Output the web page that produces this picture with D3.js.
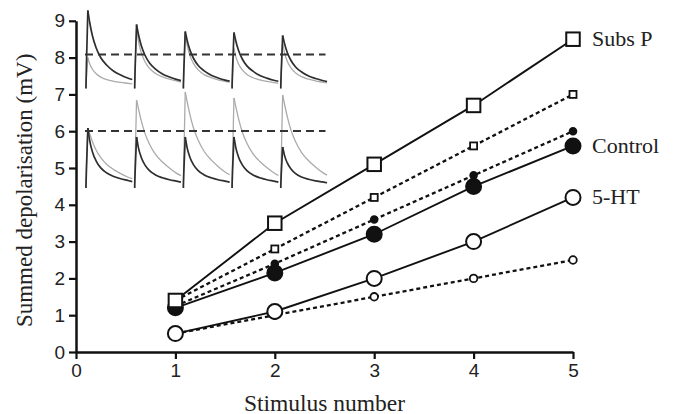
<!DOCTYPE html>
<html>
<head>
<meta charset="utf-8">
<script src="https://cdn.jsdelivr.net/npm/d3@7/dist/d3.min.js"></script>
<style>
  html, body { margin: 0; padding: 0; background: #fff; }
  svg { display: block; }
</style>
</head>
<body>
<svg id="chart" width="677" height="414"></svg>
<script>
// ---------- Main chart data ----------
const stimuli = [1, 2, 3, 4, 5];
const subsPSolid   = [1.4, 3.5, 5.1, 6.7, 8.5];
const subsPDotted  = [1.4, 2.8, 4.2, 5.6, 7.0];
const controlDotted = [1.25, 2.4, 3.6, 4.8, 6.0];
const controlSolid = [1.2, 2.15, 3.2, 4.5, 5.6];
const htSolid      = [0.5, 1.1, 2.0, 3.0, 4.2];
const htDotted     = [0.5, 1.0, 1.5, 2.0, 2.5];
const xTicks = [0, 1, 2, 3, 4, 5];
const yTicks = [0, 1, 2, 3, 4, 5, 6, 7, 8, 9];
const seriesLabels = ["Subs P", "Control", "5-HT"];

// ---------- Inset (EPSP traces) data ----------
// normalised time within a sweep and normalised trace shapes
const traceTime  = [0, 0.01, 0.04, 0.08, 0.14, 0.22, 0.32, 0.45, 0.6, 0.75, 0.9, 1.0];
const shapeFast  = [0, 0.3, 1, 0.78, 0.58, 0.42, 0.30, 0.21, 0.15, 0.11, 0.08, 0.06];
const shapeMid   = [0, 0.3, 1, 0.84, 0.66, 0.50, 0.37, 0.27, 0.19, 0.14, 0.10, 0.08];
const shapeSlow  = [0, 0.3, 1, 0.90, 0.76, 0.61, 0.48, 0.36, 0.27, 0.20, 0.14, 0.11];
// peak amplitudes of the 5 sweeps (inset units)
const topBlackPeaks    = [3.75, 3.05, 2.7, 2.65, 2.5];
const topGreyPeaks     = [1.4, 2.85, 2.6, 1.85, 2.1];
const bottomBlackPeaks = [2.85, 2.4, 2.4, 2.4, 1.9];
const bottomGreyPeaks  = [2.85, 4.25, 4.65, 4.35, 4.5];
const topDashLevel = 1.55;
const bottomDashLevel = 2.7;

// ---------- Layout ----------
const svg = d3.select("#chart");
const x = d3.scaleLinear().domain([0, 5]).range([76, 573]);
const y = d3.scaleLinear().domain([0, 9]).range([352, 20.8]);

// ---------- Inset ----------
const insetX = d3.scaleLinear().domain([0, 5]).range([86, 329.5]);
const insetTop = d3.scaleLinear().domain([0, 1]).range([85.5, 65.5]);
const insetBottom = d3.scaleLinear().domain([0, 1]).range([185, 165]);
const inset = svg.append("g");

function tracePath(peaks, shape, yScale) {
  const pts = [];
  peaks.forEach((p, i) => {
    const seg = [];
    seg.push([insetX(i), yScale(-0.15)]);
    traceTime.forEach((t, k) => {
      seg.push([insetX(i + t * 0.95), yScale(p * shape[k])]);
    });
    pts.push(seg);
  });
  return pts;
}
const line = d3.line().curve(d3.curveMonotoneX);
function drawTraces(peaks, shape, yScale, color, width) {
  tracePath(peaks, shape, yScale).forEach(seg => {
    inset.append("path")
      .attr("d", d3.line().curve(d3.curveLinear)(seg.slice(0, 4)))
      .attr("fill", "none").attr("stroke", color).attr("stroke-width", width);
    inset.append("path")
      .attr("d", line(seg.slice(3)))
      .attr("fill", "none").attr("stroke", color).attr("stroke-width", width);
  });
}
drawTraces(topGreyPeaks, shapeFast, insetTop, "#ababab", 1.3);
drawTraces(topBlackPeaks, shapeMid, insetTop, "#2e2e2e", 1.7);
drawTraces(bottomGreyPeaks, shapeSlow, insetBottom, "#ababab", 1.3);
drawTraces(bottomBlackPeaks, shapeFast, insetBottom, "#2e2e2e", 1.7);

[[topDashLevel, insetTop], [bottomDashLevel, insetBottom]].forEach(([lvl, sc]) => {
  inset.append("line")
    .attr("x1", insetX(0) - 1).attr("x2", insetX(5) - 4)
    .attr("y1", sc(lvl)).attr("y2", sc(lvl))
    .attr("stroke", "#333").attr("stroke-width", 2)
    .attr("stroke-dasharray", "8,5");
});

// ---------- Axes ----------
const xAxis = svg.append("g")
  .attr("transform", `translate(0,${y(0)})`)
  .call(d3.axisBottom(x).tickValues(xTicks).tickFormat(d3.format("d")).tickSize(7).tickSizeOuter(0).tickPadding(5));
const yAxis = svg.append("g")
  .attr("transform", `translate(${x(0)},0)`)
  .call(d3.axisLeft(y).tickValues(yTicks).tickFormat(d3.format("d")).tickSize(7).tickSizeOuter(0).tickPadding(4));
[xAxis, yAxis].forEach(a => {
  a.select(".domain").attr("stroke", "#111").attr("stroke-width", 2.5);
  a.selectAll(".tick line").attr("stroke", "#111").attr("stroke-width", 2.2);
  a.selectAll(".tick text")
    .attr("fill", "#222")
    .style("font-family", "'Liberation Sans', Arial, sans-serif")
    .style("font-size", "19px");
});

svg.append("text")
  .attr("x", (x(0) + x(5)) / 2).attr("y", 410.5)
  .attr("text-anchor", "middle")
  .style("font-family", "'Liberation Serif', 'Times New Roman', serif")
  .style("font-size", "23.5px").attr("fill", "#222")
  .text("Stimulus number");
svg.append("text")
  .attr("transform", `translate(32,${(y(0) + y(9)) / 2 + 4}) rotate(-90)`)
  .attr("text-anchor", "middle")
  .style("font-family", "'Liberation Serif', 'Times New Roman', serif")
  .style("font-size", "23px").attr("fill", "#222")
  .text("Summed depolarisation (mV)");

// ---------- Series ----------
const series = [
  { values: htDotted, dash: "4,3", marker: "circle", size: 3.8, fill: "#fff" },
  { values: htSolid, dash: null, marker: "circle", size: 7.5, fill: "#fff" },
  { values: controlDotted, dash: "4,3", marker: "circle", size: 3.4, fill: "#111" },
  { values: controlSolid, dash: null, marker: "circle", size: 7.5, fill: "#111" },
  { values: subsPDotted, dash: "4,3", marker: "square", size: 7, fill: "#fff" },
  { values: subsPSolid, dash: null, marker: "square", size: 13.5, fill: "#fff" }
];
const lineGen = d3.line().x((d, i) => x(stimuli[i])).y(d => y(d));
const gLines = svg.append("g");
const gMarks = svg.append("g");
series.forEach(s => {
  gLines.append("path")
    .attr("d", lineGen(s.values))
    .attr("fill", "none").attr("stroke", "#111")
    .attr("stroke-width", s.dash ? 2.3 : 1.9)
    .attr("stroke-dasharray", s.dash);
});
series.forEach(s => {
  s.values.forEach((v, i) => {
    if (s.marker === "circle") {
      gMarks.append("circle")
        .attr("cx", x(stimuli[i])).attr("cy", y(v)).attr("r", s.size)
        .attr("fill", s.fill).attr("stroke", "#111").attr("stroke-width", s.size > 5 ? 2 : 1.8);
    } else {
      gMarks.append("rect")
        .attr("x", x(stimuli[i]) - s.size / 2).attr("y", y(v) - s.size / 2)
        .attr("width", s.size).attr("height", s.size)
        .attr("fill", s.fill).attr("stroke", "#111").attr("stroke-width", s.size > 10 ? 2 : 1.8);
    }
  });
});

// ---------- Labels ----------
const labelVals = [subsPSolid[4], controlSolid[4], htSolid[4]];
seriesLabels.forEach((t, i) => {
  svg.append("text")
    .attr("x", x(5) + 19).attr("y", y(labelVals[i]) + 7)
    .style("font-family", "'Liberation Serif', 'Times New Roman', serif")
    .style("font-size", "22px").attr("fill", "#222")
    .text(t);
});
</script>
</body>
</html>
